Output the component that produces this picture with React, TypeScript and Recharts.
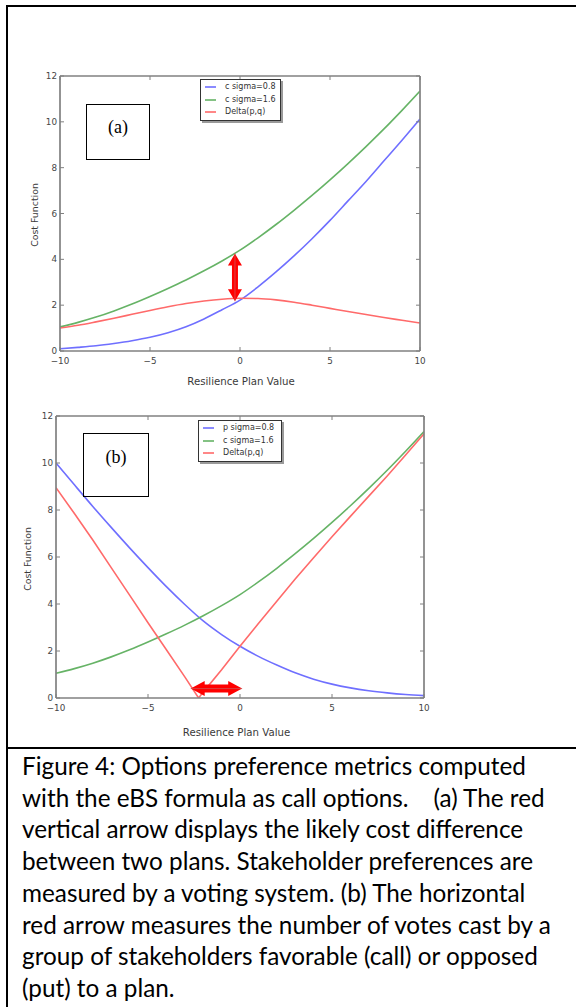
import { Legend, Line, LineChart, ReferenceLine, XAxis, YAxis } from "recharts";

// x grid used for every curve (Resilience Plan Value)
const X_VALUES = [-10, -9, -8, -7, -6, -5, -4, -3, -2, -1, 0, 1, 2, 3, 4, 5, 6, 7, 8, 9, 10];

// panel (a)
const A_C_SIGMA_08 = [0.1, 0.16, 0.23, 0.33, 0.45, 0.6, 0.8, 1.06, 1.4, 1.8, 2.22, 2.8, 3.45, 4.15, 4.9, 5.7, 6.55, 7.4, 8.3, 9.2, 10.12];
const A_C_SIGMA_16 = [1.05, 1.25, 1.48, 1.75, 2.05, 2.38, 2.73, 3.1, 3.5, 3.93, 4.4, 4.94, 5.52, 6.14, 6.79, 7.47, 8.18, 8.92, 9.69, 10.5, 11.34];
const A_DELTA = [1.0, 1.12, 1.27, 1.43, 1.6, 1.77, 1.93, 2.07, 2.18, 2.26, 2.3, 2.29, 2.23, 2.13, 2.0, 1.86, 1.72, 1.59, 1.46, 1.34, 1.22];

// panel (b)
const B_P_SIGMA_08 = [10.0, 9.07, 8.15, 7.26, 6.39, 5.55, 4.74, 3.98, 3.28, 2.7, 2.2, 1.77, 1.4, 1.07, 0.8, 0.59, 0.43, 0.31, 0.22, 0.15, 0.1];
const B_C_SIGMA_16 = [1.05, 1.25, 1.48, 1.75, 2.05, 2.38, 2.73, 3.1, 3.5, 3.93, 4.4, 4.94, 5.52, 6.14, 6.79, 7.47, 8.18, 8.92, 9.69, 10.5, 11.34];
// the delta curve has a sharp minimum between grid points
const B_DELTA_X = [-10, -9, -8, -7, -6, -5, -4, -3, -2.25, -2, -1, 0, 1, 2, 3, 4, 5, 6, 7, 8, 9, 10];
const B_DELTA = [8.95, 7.85, 6.72, 5.55, 4.38, 3.2, 2.05, 0.9, 0, 0.25, 1.2, 2.2, 3.17, 4.12, 5.06, 5.97, 6.86, 7.73, 8.59, 9.45, 10.34, 11.24];

const X_TICKS = [-10, -5, 0, 5, 10];
const Y_TICKS = [0, 2, 4, 6, 8, 10, 12];

// annotation arrows, in data units
const A_ARROW = [{ x: -0.28, y: 2.17 }, { x: -0.28, y: 4.25 }];
const B_ARROW = [{ x: -2.68, y: 0.4 }, { x: 0.12, y: 0.4 }];

const CAPTION = [
  "Figure 4: Options preference metrics computed",
  "with the eBS formula as call options.    (a) The red",
  "vertical arrow displays the likely cost difference",
  "between two plans. Stakeholder preferences are",
  "measured by a voting system. (b) The horizontal",
  "red arrow measures the number of votes cast by a",
  "group of stakeholders favorable (call) or opposed",
  "(put) to a plan.",
];

const BLUE = "#6f6fff";
const GREEN = "#66b366";
const RED = "#ff6a6a";
const FRAME = "#808080";
const MPL_FONT = "DejaVu Sans";

type Series = { name: string; color: string; curve: "monotone" | "linear"; data: { x: number; y: number }[] };

const toPoints = (xs: number[], ys: number[]) => xs.map((x, i) => ({ x, y: ys[i] }));

const fmtTick = (v: number) => (v < 0 ? `\u2212${Math.abs(v)}` : `${v}`);
const blank = () => "";

const tickStyle = { fill: "#464646", fontSize: 8.8, fontFamily: MPL_FONT };

function DoubleArrow(props: any) {
  const { x1, y1, x2, y2, head, half, shaft } = props;
  const len = Math.hypot(x2 - x1, y2 - y1) || 1;
  const dx = (x2 - x1) / len;
  const dy = (y2 - y1) / len;
  const nx = -dy;
  const ny = dx;
  const p = (bx: number, by: number, along: number, side: number) =>
    `${bx + dx * along + nx * side},${by + dy * along + ny * side}`;
  const pts = [
    p(x1, y1, 0, 0),
    p(x1, y1, head, half),
    p(x1, y1, head, shaft),
    p(x2, y2, -head, shaft),
    p(x2, y2, -head, half),
    p(x2, y2, 0, 0),
    p(x2, y2, -head, -half),
    p(x2, y2, -head, -shaft),
    p(x1, y1, head, -shaft),
    p(x1, y1, head, -half),
  ].join(" ");
  return (
    <g>
      <polygon points={pts} fill="#ff0000" />
      <line x1={x1} y1={y1} x2={x2} y2={y2} stroke="#c07070" strokeWidth={1} opacity={0.6} />
    </g>
  );
}

// matplotlib-style legend box; order follows the series list
function BoxLegend({ series }: { series: Series[] }) {
  return (
    <div
      style={{
        border: "1px solid #333",
        background: "#fff",
        boxShadow: "2px 2px 0 #9a9a9a",
        padding: "1px 4px 1px 4px",
        fontFamily: MPL_FONT,
        fontSize: 8,
        lineHeight: "12.5px",
        color: "#333",
      }}
    >
      {series.map((s) => (
        <div key={s.name} style={{ display: "flex", alignItems: "center", whiteSpace: "nowrap" }}>
          <svg width={11} height={4} style={{ marginRight: 9, display: "block" }}>
            <line x1={0} y1={2} x2={11} y2={2} stroke={s.color} strokeWidth={1.6} />
          </svg>
          {s.name}
        </div>
      ))}
    </div>
  );
}

function xLabel(dx: number, dy: number) {
  return {
    content: ({ viewBox }: any) => (
      <text
        x={viewBox.x + viewBox.width / 2 + dx}
        y={viewBox.y + dy}
        textAnchor="middle"
        dominantBaseline="middle"
        fontFamily={MPL_FONT}
        fontSize={10.2}
        fill="#3a3a3a"
      >
        Resilience Plan Value
      </text>
    ),
  };
}

function yLabel(cx: number, dy: number) {
  return {
    content: ({ viewBox }: any) => {
      const cy = viewBox.y + viewBox.height / 2 + dy;
      return (
        <text
          x={cx}
          y={cy}
          transform={`rotate(-90 ${cx} ${cy})`}
          textAnchor="middle"
          dominantBaseline="middle"
          fontFamily={MPL_FONT}
          fontSize={9.4}
          fill="#3a3a3a"
        >
          Cost Function
        </text>
      );
    },
  };
}

interface PanelProps {
  width: number;
  height: number;
  margin: { top: number; right: number; bottom: number; left: number };
  series: Series[];
  arrow: { x: number; y: number }[];
  arrowSize: { head: number; half: number; shaft: number };
  legendPos: { left: number; top: number; width: number };
  xLabelOffset: [number, number];
  yLabelPos: [number, number];
}

function Panel(p: PanelProps) {
  return (
    <LineChart width={p.width} height={p.height} margin={p.margin}>
      <XAxis
        dataKey="x"
        type="number"
        domain={[-10, 10]}
        ticks={X_TICKS}
        tickFormatter={fmtTick}
        height={1}
        tickSize={-4}
        tickMargin={10.5}
        tick={tickStyle}
        axisLine={{ stroke: FRAME, strokeWidth: 1.7 }}
        tickLine={{ stroke: FRAME }}
        allowDataOverflow
        label={xLabel(p.xLabelOffset[0], p.xLabelOffset[1])}
      />
      <XAxis
        xAxisId="top"
        orientation="top"
        dataKey="x"
        type="number"
        domain={[-10, 10]}
        ticks={X_TICKS}
        tickFormatter={blank}
        height={1}
        tickSize={-4}
        axisLine={{ stroke: FRAME, strokeWidth: 1.7 }}
        tickLine={{ stroke: FRAME }}
        allowDataOverflow
      />
      <YAxis
        type="number"
        domain={[0, 12]}
        ticks={Y_TICKS}
        tickFormatter={fmtTick}
        width={1}
        tickSize={-4}
        tickMargin={7}
        tick={tickStyle}
        axisLine={{ stroke: FRAME, strokeWidth: 1.7 }}
        tickLine={{ stroke: FRAME }}
        allowDataOverflow
        label={yLabel(p.yLabelPos[0], p.yLabelPos[1])}
      />
      <YAxis
        yAxisId="right"
        orientation="right"
        type="number"
        domain={[0, 12]}
        ticks={Y_TICKS}
        tickFormatter={blank}
        width={1}
        tickSize={-4}
        axisLine={{ stroke: FRAME, strokeWidth: 1.7 }}
        tickLine={{ stroke: FRAME }}
        allowDataOverflow
      />
      {p.series.map((s) => (
        <Line
          key={s.name}
          name={s.name}
          data={s.data}
          dataKey="y"
          type={s.curve}
          stroke={s.color}
          strokeWidth={1.6}
          dot={false}
          activeDot={false}
          isAnimationActive={false}
        />
      ))}
      <ReferenceLine
        segment={p.arrow}
        ifOverflow="visible"
        shape={(sp: any) => <DoubleArrow {...sp} {...p.arrowSize} />}
      />
      <Legend
        layout="vertical"
        align="center"
        verticalAlign="middle"
        wrapperStyle={{ left: p.legendPos.left, top: p.legendPos.top, width: p.legendPos.width }}
        content={<BoxLegend series={p.series} />}
      />
    </LineChart>
  );
}

function PanelTag({ left, top, width, height, text, textTop }: any) {
  return (
    <div
      style={{
        position: "absolute",
        left,
        top,
        width,
        height,
        border: "1.3px solid #000",
        boxSizing: "border-box",
        fontFamily: "Liberation Serif",
        fontSize: 18,
        textAlign: "center",
        paddingTop: textTop,
        color: "#000",
        lineHeight: "20px",
      }}
    >
      {text}
    </div>
  );
}

export default function App() {
  const seriesA: Series[] = [
    { name: "c sigma=0.8", color: BLUE, curve: "monotone", data: toPoints(X_VALUES, A_C_SIGMA_08) },
    { name: "c sigma=1.6", color: GREEN, curve: "monotone", data: toPoints(X_VALUES, A_C_SIGMA_16) },
    { name: "Delta(p,q)", color: RED, curve: "monotone", data: toPoints(X_VALUES, A_DELTA) },
  ];
  const seriesB: Series[] = [
    { name: "p sigma=0.8", color: BLUE, curve: "monotone", data: toPoints(X_VALUES, B_P_SIGMA_08) },
    { name: "c sigma=1.6", color: GREEN, curve: "monotone", data: toPoints(X_VALUES, B_C_SIGMA_16) },
    { name: "Delta(p,q)", color: RED, curve: "linear", data: toPoints(B_DELTA_X, B_DELTA) },
  ];

  return (
    <div
      style={{
        position: "fixed",
        left: 0,
        top: 0,
        width: 576,
        height: 1007,
        overflow: "hidden",
        background: "#fff",
      }}
    >
      <div style={{ position: "absolute", left: 0, top: 0 }}>
        <Panel
          width={576}
          height={400}
          margin={{ top: 75, right: 155, bottom: 48, left: 59 }}
          series={seriesA}
          arrow={A_ARROW}
          arrowSize={{ head: 12, half: 7, shaft: 3 }}
          legendPos={{ left: 200, top: 79, width: 81 }}
          xLabelOffset={[1, 31]}
          yLabelPos={[35, 1.5]}
        />
      </div>
      <div style={{ position: "absolute", left: 0, top: 400 }}>
        <Panel
          width={576}
          height={348}
          margin={{ top: 15, right: 151, bottom: 49, left: 55 }}
          series={seriesB}
          arrow={B_ARROW}
          arrowSize={{ head: 14, half: 7.5, shaft: 4 }}
          legendPos={{ left: 198, top: 20, width: 84 }}
          xLabelOffset={[-3.5, 35]}
          yLabelPos={[28.7, 2]}
        />
      </div>

      <PanelTag left={86} top={104} width={64} height={56} text="(a)" textTop={12} />
      <PanelTag left={83} top={433} width={66} height={64} text="(b)" textTop={13} />

      <div
        style={{
          position: "absolute",
          left: 6,
          top: 5,
          width: 640,
          height: 1100,
          borderLeft: "2px solid #000",
          borderTop: "2px solid #000",
          pointerEvents: "none",
        }}
      />
      <div style={{ position: "absolute", left: 6, top: 747, width: 640, height: 2, background: "#000" }} />

      <div
        style={{
          position: "absolute",
          left: 22,
          top: 750,
          fontFamily: "Lato",
          fontSize: 24.3,
          lineHeight: "31.7px",
          color: "#000",
          whiteSpace: "pre",
        }}
      >
        {CAPTION.map((line) => (
          <div key={line}>{line}</div>
        ))}
      </div>
    </div>
  );
}
